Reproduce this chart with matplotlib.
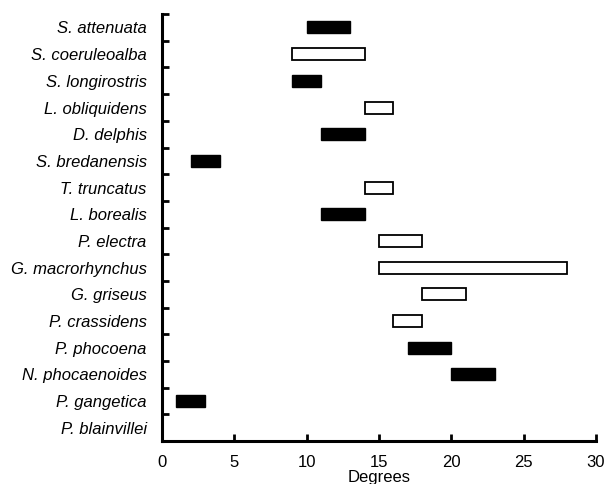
import matplotlib.pyplot as plt

# Species, top to bottom
species = [
    "S. attenuata", "S. coeruleoalba", "S. longirostris", "L. obliquidens",
    "D. delphis", "S. bredanensis", "T. truncatus", "L. borealis",
    "P. electra", "G. macrorhynchus", "G. griseus", "P. crassidens",
    "P. phocoena", "N. phocaenoides", "P. gangetica", "P. blainvillei",
]
# range start / end in degrees (None = no bar)
start = [10, 9, 9, 14, 11, 2, 14, 11, 15, 15, 18, 16, 17, 20, 1, None]
end = [13, 14, 11, 16, 14, 4, 16, 14, 18, 28, 21, 18, 20, 23, 3, None]
# True = filled black bar, False = open bar
filled = [True, False, True, False, True, True, False, True,
          False, False, False, False, True, True, True, False]

x_ticks = [0, 5, 10, 15, 20, 25, 30]

fig = plt.figure(figsize=(6.07, 4.84), dpi=100)
ax = fig.add_axes([0.2669, 0.0888, 0.715, 0.882])

n = len(species)
centers = [n - i - 0.5 for i in range(n)]

for c, s, e, f in zip(centers, start, end, filled):
    if s is None:
        continue
    if f:
        ax.barh(c, e - s, left=s, height=0.45, color="black", edgecolor="black", linewidth=1)
    else:
        ax.barh(c, e - s, left=s, height=0.45, color="white", edgecolor="black", linewidth=1.3)

ax.set_xlim(0, 30)
ax.set_ylim(0, n)

ax.spines["top"].set_visible(False)
ax.spines["right"].set_visible(False)
ax.spines["left"].set_linewidth(2.2)
ax.spines["bottom"].set_linewidth(2.2)

ax.set_xticks(x_ticks)
ax.set_xticklabels([str(t) for t in x_ticks], fontsize=12, family="Liberation Sans")
ax.tick_params(axis="x", direction="in", length=5, width=2, pad=10)

# ticks at category boundaries, labels at centres
ax.set_yticks(range(1, n + 1))
ax.set_yticklabels([])
ax.tick_params(axis="y", which="major", direction="in", length=5, width=2)
ax.set_yticks(centers, minor=True)
ax.set_yticklabels(species, minor=True, fontsize=12, style="italic", family="Liberation Sans")
ax.tick_params(axis="y", which="minor", length=0, pad=11)

ax.set_xlabel("Degrees", fontsize=12, family="Liberation Sans", labelpad=0)

fig.savefig("out.png", dpi=100)
